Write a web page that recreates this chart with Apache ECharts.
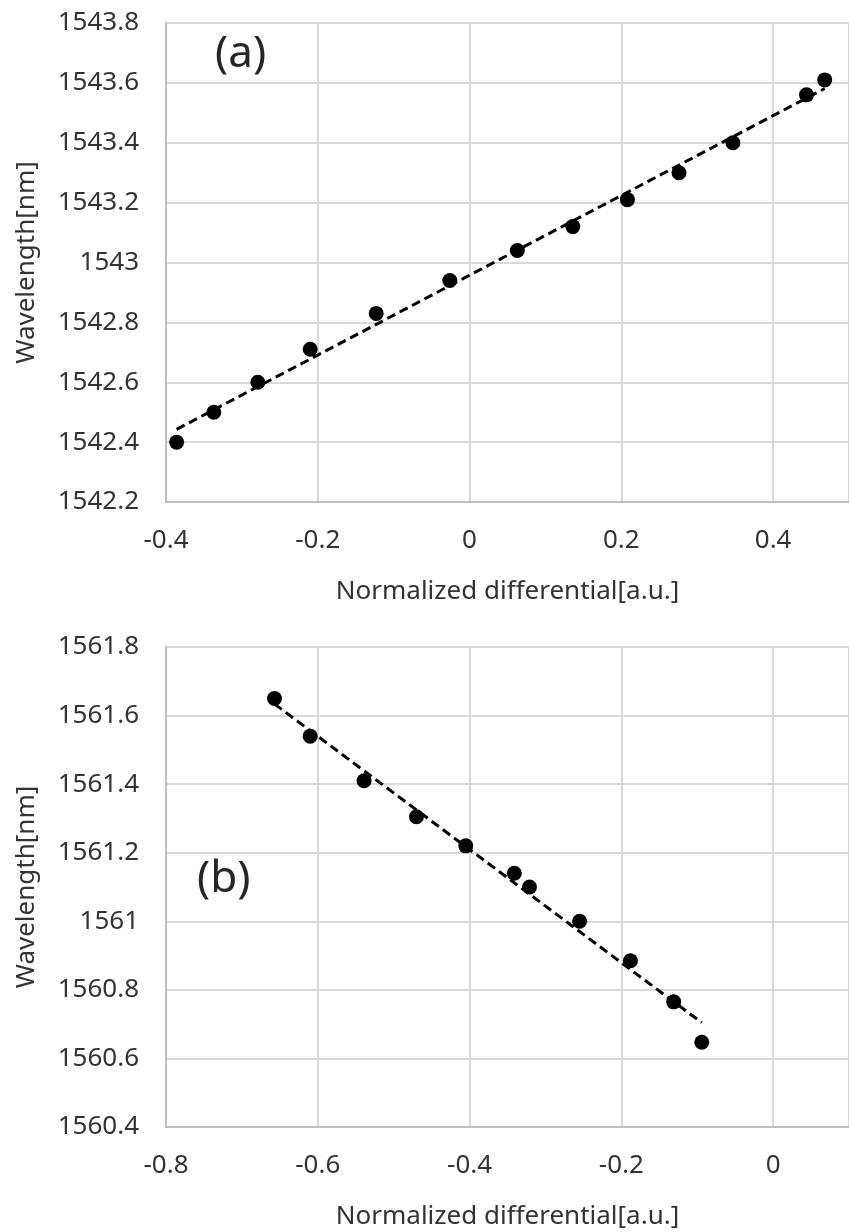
<!DOCTYPE html>
<html>
<head>
<meta charset="utf-8">
<script src="https://cdn.jsdelivr.net/npm/echarts@6/dist/echarts.min.js"></script>
<style>
  html, body { margin: 0; padding: 0; background: #ffffff; }
  #chart { width: 849px; height: 1232px; }
</style>
</head>
<body>
<div id="chart"></div>
<script>
// Panel (a): normalized differential vs. wavelength
const diffA = [-0.386, -0.337, -0.279, -0.210, -0.123, -0.026, 0.063, 0.136, 0.208, 0.276, 0.347, 0.444, 0.468];
const wlA   = [1542.40, 1542.50, 1542.60, 1542.71, 1542.83, 1542.94, 1543.04, 1543.12, 1543.21, 1543.30, 1543.40, 1543.56, 1543.61];

// Panel (b)
const diffB = [-0.657, -0.610, -0.539, -0.470, -0.405, -0.341, -0.321, -0.255, -0.188, -0.131, -0.094];
const wlB   = [1561.65, 1561.54, 1561.41, 1561.305, 1561.22, 1561.14, 1561.10, 1561.00, 1560.885, 1560.765, 1560.647];

const panelLabels = ['(a)', '(b)'];
const xTitle = 'Normalized differential[a.u.]';
const yTitle = 'Wavelength[nm]';

// Least-squares linear fit, returned as the two end points of the fitted line
function linearFit(xs, ys) {
  const n = xs.length;
  const mx = xs.reduce((s, v) => s + v, 0) / n;
  const my = ys.reduce((s, v) => s + v, 0) / n;
  let sxy = 0, sxx = 0;
  for (let i = 0; i < n; i++) {
    sxy += (xs[i] - mx) * (ys[i] - my);
    sxx += (xs[i] - mx) * (xs[i] - mx);
  }
  const k = sxy / sxx;
  const b = my - k * mx;
  const x0 = Math.min(...xs), x1 = Math.max(...xs);
  return [[x0, k * x0 + b], [x1, k * x1 + b]];
}

const FONT = 'Noto Sans';
const TEXT = '#333333';
const fmt1 = v => String(parseFloat(Number(v).toFixed(1)));

function xAxisCfg(gridIndex, min, max) {
  return {
    type: 'value', gridIndex, min, max, interval: 0.2,
    name: xTitle, nameLocation: 'middle', nameGap: 77,
    nameTextStyle: { fontFamily: FONT, fontSize: 26, color: TEXT },
    axisLine: { show: true, onZero: false, lineStyle: { color: '#bfbfbf', width: 2 } },
    axisTick: { show: false },
    axisLabel: { fontFamily: FONT, fontSize: 26, color: TEXT, margin: 26, formatter: fmt1, showMaxLabel: false },
    splitLine: { show: true, lineStyle: { color: '#d9d9d9', width: 2 } }
  };
}
function yAxisCfg(gridIndex, min, max) {
  return {
    type: 'value', gridIndex, min, max, interval: 0.2,
    name: yTitle, nameLocation: 'middle', nameGap: 126, nameRotate: 90,
    nameTextStyle: { fontFamily: FONT, fontSize: 26, color: TEXT },
    axisLine: { show: true, onZero: false, lineStyle: { color: '#bfbfbf', width: 2 } },
    axisTick: { show: false },
    axisLabel: { fontFamily: FONT, fontSize: 26, color: TEXT, margin: 27, formatter: fmt1 },
    splitLine: { show: true, lineStyle: { color: '#d9d9d9', width: 2 } }
  };
}

function pairs(xs, ys) { return xs.map((x, i) => [x, ys[i]]); }

const dash = { color: '#000000', width: 3, type: [9, 5] };
const dot = { color: '#000000', opacity: 1 };

const chart = echarts.init(document.getElementById('chart'), null, { renderer: 'canvas' });
chart.setOption({
  animation: false,
  backgroundColor: '#ffffff',
  grid: [
    { left: 166, top: 23, width: 689, height: 479 },
    { left: 166, top: 647, width: 689, height: 480 }
  ],
  xAxis: [xAxisCfg(0, -0.4, 0.5), xAxisCfg(1, -0.8, 0.1)],
  yAxis: [yAxisCfg(0, 1542.2, 1543.8), yAxisCfg(1, 1560.4, 1561.8)],
  series: [
    {
      type: 'line', xAxisIndex: 0, yAxisIndex: 0, data: linearFit(diffA, wlA),
      showSymbol: false, symbol: 'none', lineStyle: dash, silent: true, z: 2
    },
    {
      type: 'scatter', xAxisIndex: 0, yAxisIndex: 0, data: pairs(diffA, wlA),
      symbol: 'circle', symbolSize: 15, itemStyle: dot, z: 3
    },
    {
      type: 'line', xAxisIndex: 1, yAxisIndex: 1, data: linearFit(diffB, wlB),
      showSymbol: false, symbol: 'none', lineStyle: dash, silent: true, z: 2
    },
    {
      type: 'scatter', xAxisIndex: 1, yAxisIndex: 1, data: pairs(diffB, wlB),
      symbol: 'circle', symbolSize: 15, itemStyle: dot, z: 3
    }
  ],
  graphic: [
    { type: 'text', left: 215, top: 32, style: { text: panelLabels[0], fontFamily: FONT, fontSize: 44, fill: '#262626' } },
    { type: 'text', left: 197, top: 857, style: { text: panelLabels[1], fontFamily: FONT, fontSize: 44, fill: '#262626' } }
  ]
});
</script>
</body>
</html>
